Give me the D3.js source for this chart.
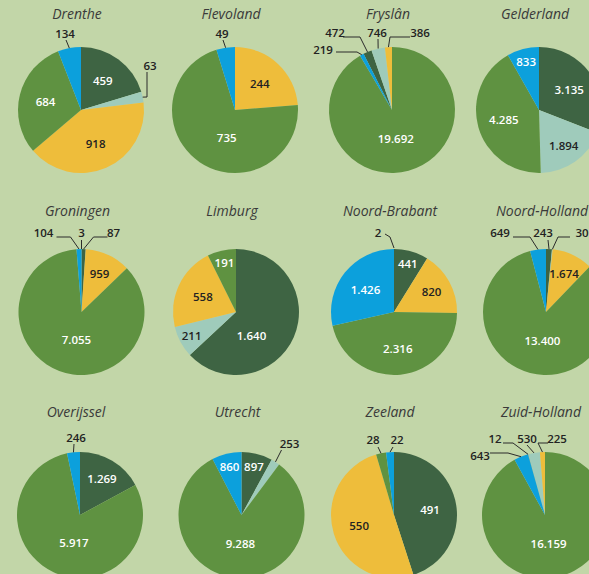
<!DOCTYPE html>
<html>
<head>
<meta charset="utf-8">
<script src="https://cdn.jsdelivr.net/npm/d3@7"></script>
<style>
  body { margin: 0; background: #c2d6a8; }
  svg { display: block; }
  .title { font-family: "Open Sans", sans-serif; font-style: italic; font-size: 14px; fill: #3a3a3a; }
  .val { font-family: "Open Sans", sans-serif; font-weight: 600; font-size: 11.5px; }
</style>
</head>
<body>
<svg id="chart" width="589" height="574"></svg>
<script>
// data
const provinces = ["Drenthe", "Flevoland", "Fryslân", "Gelderland",
  "Groningen", "Limburg", "Noord-Brabant", "Noord-Holland",
  "Overijssel", "Utrecht", "Zeeland", "Zuid-Holland"];
const categories = ["darkGreen", "teal", "yellow", "green", "blue"];

const darkGreen = [459, 0, 472, 3135, 87, 1640, 441, 243, 1269, 897, 491, 12];
const teal      = [63, 0, 746, 1894, 3, 211, 2, 30, 0, 253, 0, 530];
const yellow    = [918, 244, 386, 0, 959, 558, 820, 1674, 0, 0, 550, 225];
const green     = [684, 735, 19692, 4285, 7055, 191, 2316, 13400, 5917, 9288, 28, 16159];
const blue      = [134, 49, 219, 833, 104, 0, 1426, 649, 246, 860, 22, 643];

// pies that start with the green slice at 12 o'clock
const startWith = { "Fryslân": "green", "Zuid-Holland": "green" };

const series = { darkGreen, teal, yellow, green, blue };

// layout
const rowY = [110, 312, 515];
const colX = [[81, 235, 392, 539], [81.5, 236, 394, 546], [80, 241.5, 394, 545]];
const titleY = [13, 210, 411];
const radius = 63;

// callouts for the thin slices: label centre and leader bends, relative to pie centre
const callouts = {
  "Drenthe|blue":       { label: [-16, -77], pts: [[-15, -70]] },
  "Drenthe|teal":       { label: [69, -45], pts: [[66, -38], [66, -13]] },
  "Flevoland|blue":     { label: [-13, -77], pts: [[-12, -70]] },
  "Fryslân|blue":       { label: [-69, -61], pts: [[-56, -58], [-35, -58]] },
  "Fryslân|darkGreen":  { label: [-57, -78], pts: [[-49, -73], [-32, -73]] },
  "Fryslân|teal":       { label: [-15, -78], pts: [[-14, -71]] },
  "Fryslân|yellow":     { label: [28, -78], pts: [[18, -73], [-2, -73]] },
  "Groningen|blue":     { label: [-38, -80], pts: [[-25, -75], [-11, -75]] },
  "Groningen|teal":     { label: [0, -80], pts: [[0, -72]], to: [0, -63] },
  "Groningen|darkGreen":{ label: [32, -80], pts: [[26, -75], [12, -75]] },
  "Noord-Brabant|teal": { label: [-16, -80], pts: [[-9, -78], [-4, -75]], to: [0, -64] },
  "Noord-Holland|blue": { label: [-46, -80], pts: [[-33, -75], [-16, -75]] },
  "Noord-Holland|darkGreen": { label: [-3, -80], pts: [[2, -72]] },
  "Noord-Holland|teal": { label: [36, -80], pts: [[24, -75], [12, -75]] },
  "Overijssel|blue":    { label: [-4, -78], pts: [[-6, -71]] },
  "Utrecht|teal":       { label: [48, -72], pts: [[40, -65]] },
  "Zeeland|green":      { label: [-21, -76], pts: [[-16, -68]] },
  "Zeeland|blue":       { label: [3, -76], pts: [[-1, -68]] },
  "Zuid-Holland|blue":  { label: [-65, -60], pts: [[-55, -62], [-37, -62]] },
  "Zuid-Holland|darkGreen": { label: [-50, -77], pts: [[-42, -72], [-32, -72]] },
  "Zuid-Holland|teal":  { label: [-18, -77], pts: [[-18, -70]] },
  "Zuid-Holland|yellow":{ label: [12, -77], pts: [[3, -72], [-7, -72]] }
};

const nl = d3.formatLocale({ decimal: ",", thousands: ".", grouping: [3], currency: ["€", ""] });
const fmt = nl.format(",d");

const color = d3.scaleOrdinal().domain(categories)
  .range(["#3e6443", "#9fcbbb", "#eebd3b", "#5f9241", "#0ca0dc"]);
const textColor = d3.scaleOrdinal().domain(categories)
  .range(["#fff", "#222", "#222", "#fff", "#fff"]);

const svg = d3.select("#chart");
const arc = d3.arc().innerRadius(0).outerRadius(radius);

provinces.forEach(function(name, i) {
  const row = Math.floor(i / 4), col = i % 4;
  const cx = colX[row][col], cy = rowY[row];

  const values = categories.map(c => series[c][i]);
  const total = d3.sum(values);
  const data = categories.map((c, k) => ({ cat: c, value: values[k] }));

  let start = 0;
  if (startWith[name]) {
    const k = categories.indexOf(startWith[name]);
    start = -d3.sum(values.slice(0, k)) / total * 2 * Math.PI;
  }

  const pie = d3.pie().sort(null).value(d => d.value)
    .startAngle(start).endAngle(start + 2 * Math.PI);
  const arcs = pie(data).filter(d => d.value > 0);

  svg.append("text")
    .attr("class", "title")
    .attr("x", cx - 4)
    .attr("y", titleY[row])
    .attr("text-anchor", "middle")
    .attr("dominant-baseline", "central")
    .text(name);

  const g = svg.append("g").attr("transform", `translate(${cx},${cy})`);

  g.selectAll("path")
    .data(arcs)
    .enter()
    .append("path")
    .attr("d", arc)
    .attr("fill", d => color(d.data.cat));

  arcs.forEach(function(d) {
    const key = name + "|" + d.data.cat;
    let mid = (d.startAngle + d.endAngle) / 2;
    const frac = d.value / total;
    const co = callouts[key];

    if (co) {
      const end = co.to || [Math.sin(mid) * radius, -Math.cos(mid) * radius];
      const line = co.pts.concat([end]);
      g.append("path")
        .attr("d", d3.line()(line))
        .attr("fill", "none")
        .attr("stroke", "#2b2b2b")
        .attr("stroke-width", 1);
      g.append("text")
        .attr("class", "val")
        .attr("x", co.label[0])
        .attr("y", co.label[1])
        .attr("text-anchor", "middle")
        .attr("dominant-baseline", "central")
        .attr("fill", "#222")
        .text(fmt(d.value));
      return;
    }

    let lr = 0.58;
    if (frac < 0.1) lr = 0.8;
    else if (frac < 0.2) lr = 0.68;
    else if (frac > 0.6) {
      lr = 0.45;
      // big slices: label sits nearer the bottom
      mid = mid * 0.5 + Math.PI * 0.5;
    }
    g.append("text")
      .attr("class", "val")
      .attr("x", Math.sin(mid) * radius * lr)
      .attr("y", -Math.cos(mid) * radius * lr)
      .attr("text-anchor", "middle")
      .attr("dominant-baseline", "central")
      .attr("fill", textColor(d.data.cat))
      .text(fmt(d.value));
  });
});
</script>
</body>
</html>
